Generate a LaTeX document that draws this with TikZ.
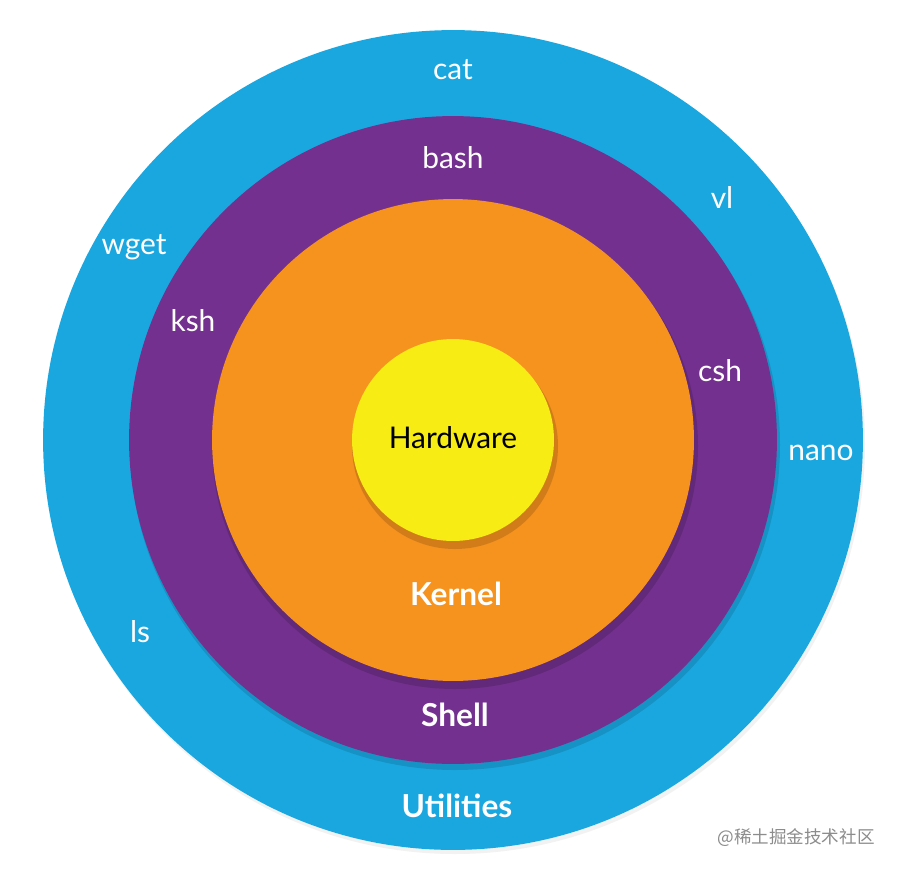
\documentclass[tikz,border=0pt]{standalone}
\usepackage{fontspec}
\setmainfont{Lato}
\newfontfamily\cjk{Noto Sans CJK SC}
\definecolor{cblue}{HTML}{1AA7E0}
\definecolor{cpurple}{HTML}{74308F}
\definecolor{corange}{HTML}{F6921E}
\definecolor{cyellow}{HTML}{F7EC14}
\begin{document}
\begin{tikzpicture}[x=0.02cm,y=-0.02cm,
  lbl/.style={text=white,font=\fontsize{17}{20}\selectfont},
  big/.style={text=white,font=\fontsize{18}{21}\selectfont\bfseries}]
\useasboundingbox (0,0) rectangle (900,873);
\fill[white] (0,0) rectangle (900,873);
\fill[black!25,opacity=0.2] (455,444) circle (410);
\node[circle,fill=cblue,minimum size=16.4cm,inner sep=0] (util) at (453,440) {};
\fill[black,opacity=0.12] (455,445) circle (325);
\node[circle,fill=cpurple,minimum size=12.96cm,inner sep=0] (shell) at (453,440) {};
\fill[black,opacity=0.15] (455,446) circle (243);
\node[circle,fill=corange,minimum size=9.64cm,inner sep=0] (kern) at (453,440) {};
\fill[black,opacity=0.15] (455,446) circle (103);
\node[circle,fill=cyellow,minimum size=4.04cm,inner sep=0] (hw) at (453,440) {};
\node[font=\fontsize{17}{20}\selectfont] (thw) at (453,438) {Hardware};
\node[lbl] (cat) at (453,70) {cat};
\node[lbl] (bash) at (453,158) {bash};
\node[lbl] (vl) at (722,197) {vl};
\node[lbl] (wget) at (134,247) {wget};
\node[lbl] (ksh) at (193,321) {ksh};
\node[lbl] (csh) at (720,371) {csh};
\node[lbl] (nano) at (821,453) {nano};
\node[lbl] (ls) at (140,632) {ls};
\node[big] (tk) at (456,594) {Kernel};
\node[big] (ts) at (455,715) {Shell};
\node[big] (tu) at (457,806) {Utilities};
\node[text=black!45,font=\cjk\fontsize{10}{12}\selectfont] (wm) at (796,838) {@稀土掘金技术社区};
\end{tikzpicture}
\end{document}
